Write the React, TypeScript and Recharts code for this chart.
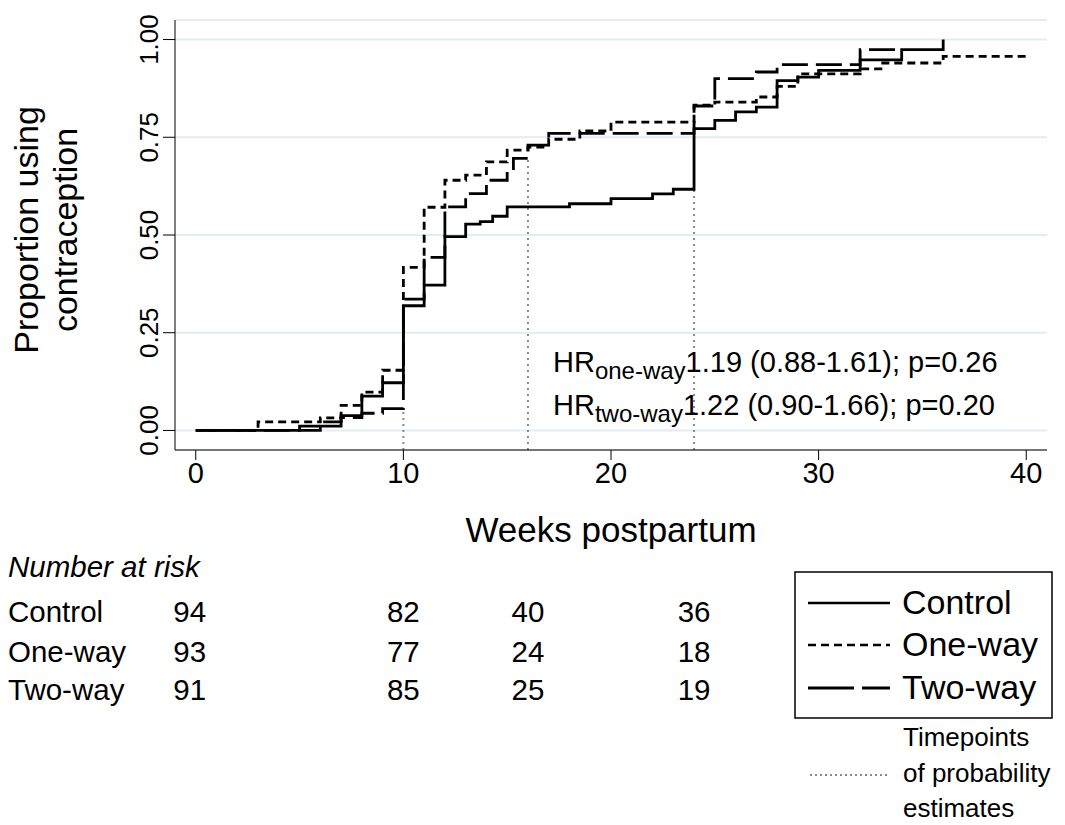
import React from "react";
import { CartesianGrid, Line, LineChart, ReferenceLine, XAxis, YAxis } from "recharts";

// Kaplan-Meier style cumulative proportions
const controlWeeks = [0, 6, 7, 8, 9, 10, 11, 12, 13, 13.7, 14.3, 15, 18, 20, 22, 23, 24, 25, 26, 27, 28, 29, 30, 32, 34, 36];
const controlValues = [0, 0.011, 0.038, 0.088, 0.122, 0.319, 0.372, 0.496, 0.528, 0.534, 0.548, 0.572, 0.58, 0.593, 0.605, 0.617, 0.772, 0.793, 0.815, 0.827, 0.895, 0.904, 0.921, 0.948, 0.974, 1.0];

const oneWayWeeks = [0, 3, 6, 7, 8, 9, 10, 11, 12, 13, 14, 15, 16, 17, 18.5, 20, 24, 25, 27, 28, 29, 32, 33, 36, 40];
const oneWayValues = [0, 0.022, 0.032, 0.064, 0.098, 0.154, 0.417, 0.571, 0.64, 0.653, 0.687, 0.717, 0.725, 0.745, 0.766, 0.789, 0.832, 0.84, 0.853, 0.88, 0.912, 0.925, 0.94, 0.957, 0.966];

const twoWayWeeks = [0, 5, 6, 7, 8, 9, 10, 11, 12, 13, 14, 15, 15.3, 16, 17, 24, 25, 27, 28, 32, 34];
const twoWayValues = [0, 0.011, 0.022, 0.033, 0.044, 0.056, 0.336, 0.443, 0.572, 0.606, 0.64, 0.665, 0.696, 0.73, 0.76, 0.83, 0.9, 0.917, 0.936, 0.974, 0.974];

// dotted timepoint markers (week, height reached)
const timepointWeeks = [10, 16, 24];
const timepointTops = [0.058, 0.7, 0.79];

const xTicks = [0, 10, 20, 30, 40];
const yTicks = [0, 0.25, 0.5, 0.75, 1];

// number at risk table
const riskWeeks = [0, 10, 16, 24];
const riskControl = [94, 82, 40, 36];
const riskOneWay = [93, 77, 24, 18];
const riskTwoWay = [91, 85, 25, 19];

const FONT = "'Liberation Sans', Arial, Helvetica, sans-serif";
const W = 1065;
const H = 825;
const PLOT_LEFT = 175;
const PLOT_RIGHT = 1047;
const PLOT_TOP = 20;
const PLOT_BOTTOM = 450;
const X_DOMAIN: [number, number] = [-1, 41];
const Y_DOMAIN: [number, number] = [-0.05, 1.05];
const X_AXIS_H = 60;

const ONE_WAY_DASH = "8 5";
const TWO_WAY_DASH = "26 8";

const toPoints = (ws: number[], vs: number[]) => ws.map((w, i) => ({ week: w, p: vs[i] }));

const xPx = (w: number) =>
  PLOT_LEFT + ((w - X_DOMAIN[0]) / (X_DOMAIN[1] - X_DOMAIN[0])) * (PLOT_RIGHT - PLOT_LEFT);

function YTick(props: any) {
  const { x, y, payload } = props;
  const bx = x - 3;
  return (
    <text x={bx} y={y} transform={`rotate(-90 ${bx} ${y})`} textAnchor="middle" fontSize={26} fontFamily={FONT} fill="#000">
      {Number(payload.value).toFixed(2)}
    </text>
  );
}

const rows = [
  { name: "Control", values: riskControl, y: 622 },
  { name: "One-way", values: riskOneWay, y: 662 },
  { name: "Two-way", values: riskTwoWay, y: 700 },
];

export default function App() {
  const control = toPoints(controlWeeks, controlValues);
  const oneWay = toPoints(oneWayWeeks, oneWayValues);
  const twoWay = toPoints(twoWayWeeks, twoWayValues);

  return (
    <div style={{ position: "absolute", left: 0, top: 0, width: W, height: H, background: "#fff", fontFamily: FONT }}>
      <LineChart
        width={W}
        height={H}
        margin={{ top: PLOT_TOP, right: W - PLOT_RIGHT, left: 0, bottom: H - PLOT_BOTTOM - X_AXIS_H }}
      >
        <CartesianGrid vertical={false} stroke="#e2edf3" strokeWidth={2} />
        <XAxis
          dataKey="week"
          type="number"
          domain={X_DOMAIN}
          ticks={xTicks}
          height={X_AXIS_H}
          allowDataOverflow
          tickSize={10}
          stroke="#000"
          tick={{ fontSize: 29, fill: "#000", fontFamily: FONT }}
        />
        <YAxis
          type="number"
          domain={Y_DOMAIN}
          ticks={yTicks}
          width={PLOT_LEFT}
          allowDataOverflow
          tickSize={12}
          stroke="#000"
          tick={<YTick />}
        />
        {timepointWeeks.map((w, i) => (
          <ReferenceLine
            key={w}
            segment={[
              { x: w, y: Y_DOMAIN[0] },
              { x: w, y: timepointTops[i] },
            ]}
            stroke="#8a8a8a"
            strokeWidth={2}
            strokeDasharray="2 4"
          />
        ))}
        <Line data={control} dataKey="p" type="stepAfter" stroke="#000" strokeWidth={2.8} dot={false} isAnimationActive={false} />
        <Line data={oneWay} dataKey="p" type="stepAfter" stroke="#000" strokeWidth={2.8} strokeDasharray={ONE_WAY_DASH} dot={false} isAnimationActive={false} />
        <Line data={twoWay} dataKey="p" type="stepAfter" stroke="#000" strokeWidth={2.8} strokeDasharray={TWO_WAY_DASH} dot={false} isAnimationActive={false} />
      </LineChart>

      <svg width={W} height={H} style={{ position: "absolute", left: 0, top: 0, pointerEvents: "none" }} fontFamily={FONT}>
        {/* y axis title */}
        <text x={38} y={230} transform="rotate(-90 38 230)" textAnchor="middle" fontSize={34}>Proportion using</text>
        <text x={77} y={230} transform="rotate(-90 77 230)" textAnchor="middle" fontSize={34}>contraception</text>
        {/* x axis title */}
        <text x={(PLOT_LEFT + PLOT_RIGHT) / 2} y={542} textAnchor="middle" fontSize={35}>Weeks postpartum</text>

        {/* hazard ratios */}
        <text x={553} y={372} fontSize={29}>
          HR<tspan fontSize={24} dy={7}>one-way</tspan>
          <tspan dy={-7}>1.19 (0.88-1.61); p=0.26</tspan>
        </text>
        <text x={553} y={415} fontSize={29}>
          HR<tspan fontSize={24} dy={7}>two-way</tspan>
          <tspan dy={-7}>1.22 (0.90-1.66); p=0.20</tspan>
        </text>

        {/* number at risk */}
        <text x={8} y={577} fontSize={29.5} fontStyle="italic">Number at risk</text>
        {rows.map((r) => (
          <g key={r.name}>
            <text x={8} y={r.y} fontSize={29.5}>{r.name}</text>
            {r.values.map((v, i) => (
              <text key={i} x={xPx(riskWeeks[i]) - (i === 0 ? 6 : 0)} y={r.y} fontSize={29.5} textAnchor="middle">{v}</text>
            ))}
          </g>
        ))}

        {/* legend */}
        <rect x={795} y={572} width={257} height={146} fill="#fff" stroke="#000" strokeWidth={1.5} />
        <line x1={808} x2={890} y1={603} y2={603} stroke="#000" strokeWidth={2.5} />
        <text x={902} y={614} fontSize={34}>Control</text>
        <line x1={808} x2={890} y1={645} y2={645} stroke="#000" strokeWidth={2.5} strokeDasharray={ONE_WAY_DASH} />
        <text x={902} y={656} fontSize={34}>One-way</text>
        <line x1={808} x2={890} y1={688} y2={688} stroke="#000" strokeWidth={3} strokeDasharray="46 8" />
        <text x={902} y={699} fontSize={34}>Two-way</text>

        <line x1={810} x2={888} y1={775} y2={775} stroke="#8a8a8a" strokeWidth={2} strokeDasharray="2 3" />
        <text x={903} y={746} fontSize={26}>Timepoints</text>
        <text x={903} y={782} fontSize={26}>of probability</text>
        <text x={903} y={817} fontSize={26}>estimates</text>
      </svg>
    </div>
  );
}
